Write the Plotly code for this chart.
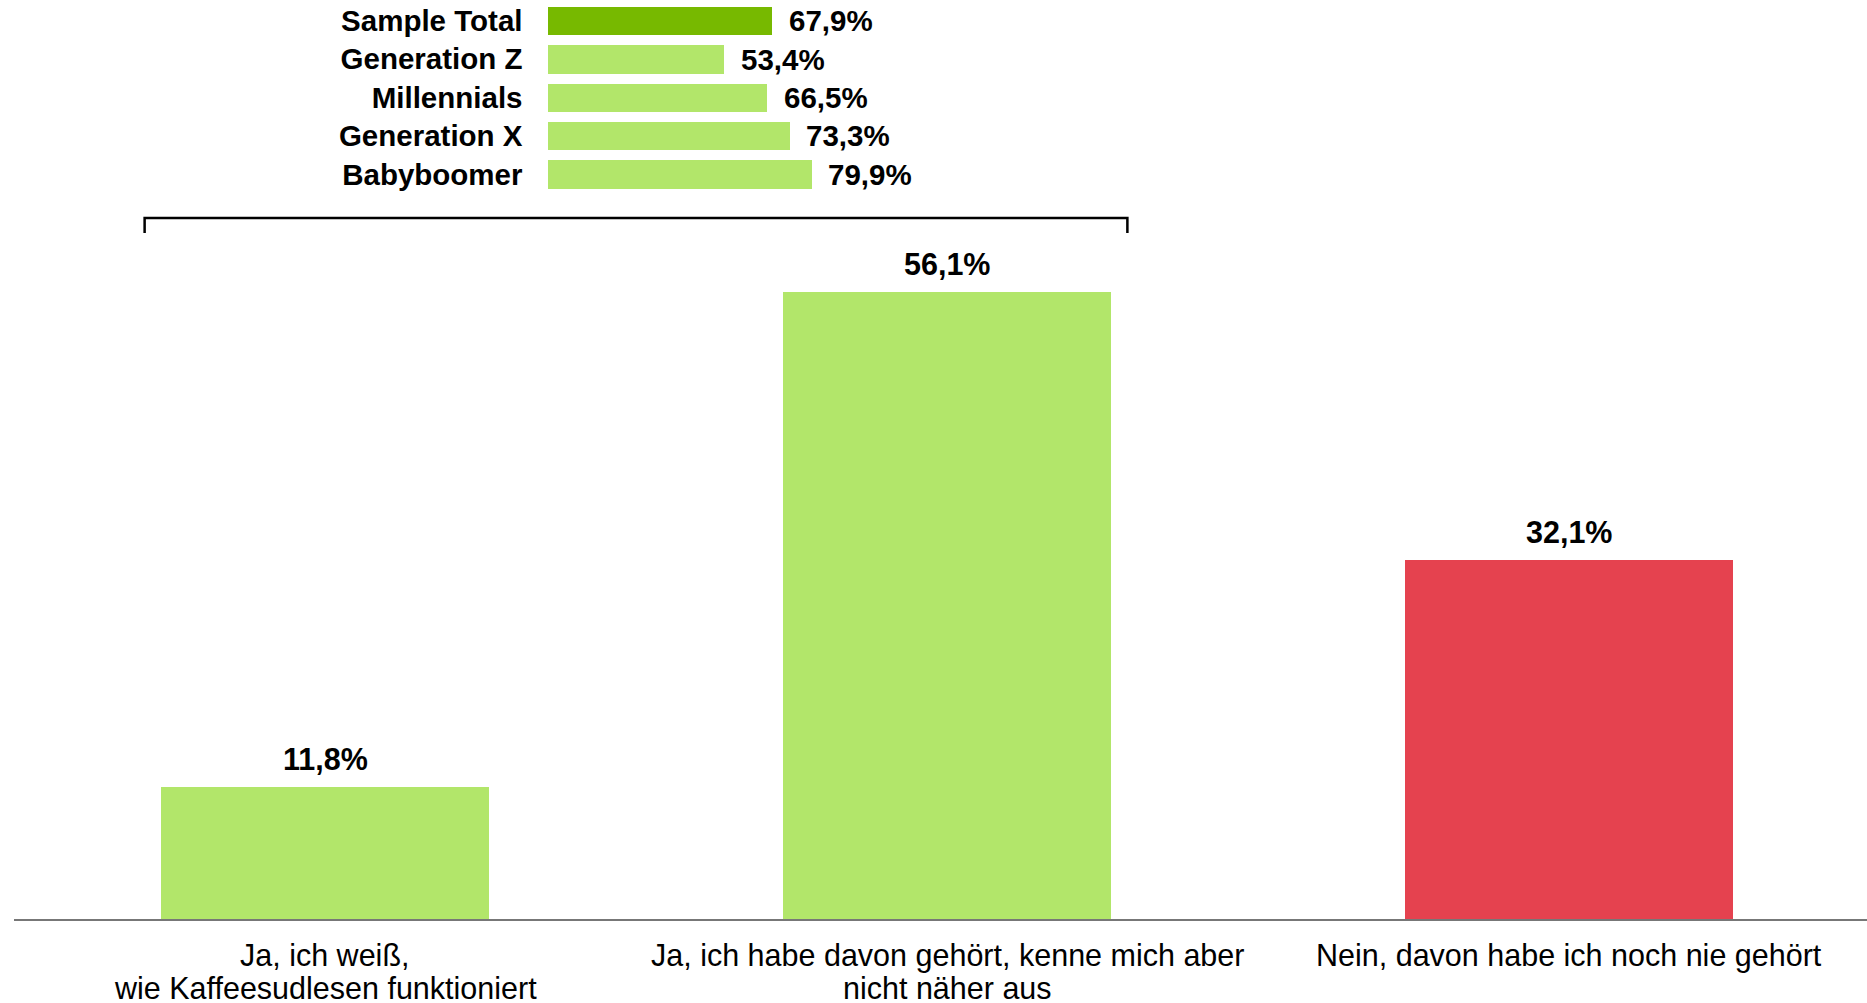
import plotly.graph_objects as go

# ---- data ----
categories = [
    ["Ja, ich weiß,", "wie Kaffeesudlesen funktioniert"],
    ["Ja, ich habe davon gehört, kenne mich aber", "nicht näher aus"],
    ["Nein, davon habe ich noch nie gehört"],
]
values = [11.8, 56.1, 32.1]
bar_colors = ["#b2e66a", "#b2e66a", "#e5424f"]

inset_groups = ["Sample Total", "Generation Z", "Millennials", "Generation X", "Babyboomer"]
inset_values = [67.9, 53.4, 66.5, 73.3, 79.9]
inset_colors = ["#77b900", "#b2e66a", "#b2e66a", "#b2e66a", "#b2e66a"]

FONT = "Liberation Sans, Arial, sans-serif"


def fmt(v):
    return f"{v:.1f}".replace(".", ",") + "%"


W, H = 1867, 1003
ML, MR, MT, MB = 14, 0, 0, 84
PW, PH = W - ML - MR, H - MT - MB

fig = go.Figure()

xs = list(range(len(values)))
fig.add_trace(go.Bar(
    x=xs, y=values, marker=dict(color=bar_colors, line=dict(width=0)),
    width=0.526, hoverinfo="skip", showlegend=False,
))

iy = list(range(len(inset_values)))
fig.add_trace(go.Bar(
    x=inset_values, y=iy, orientation="h", xaxis="x2", yaxis="y2",
    marker=dict(color=inset_colors, line=dict(width=0)),
    width=0.738, hoverinfo="skip", showlegend=False,
))

annotations = []
# main value labels
for x, v in zip(xs, values):
    annotations.append(dict(
        x=x, y=v, xref="x", yref="y", text=f"<b>{fmt(v)}</b>", showarrow=False,
        yanchor="middle", xanchor="center", yshift=28,
        font=dict(family=FONT, size=30.5, color="#000000"),
    ))
# category labels (one annotation per line)
for x, lines in zip(xs, categories):
    for i, line in enumerate(lines):
        annotations.append(dict(
            x=x, y=0, xref="x", yref="y", text=line, showarrow=False,
            yanchor="middle", xanchor="center", yshift=-36 - 33 * i,
            font=dict(family=FONT, size=30.5, color="#000000"),
        ))
# inset value labels
for y, v in zip(iy, inset_values):
    annotations.append(dict(
        x=v, y=y, xref="x2", yref="y2", text=f"<b>{fmt(v)}</b>", showarrow=False,
        yanchor="middle", xanchor="left", xshift=15,
        font=dict(family=FONT, size=29.5, color="#000000"),
    ))

# inset geometry (pixels -> paper)
px_per_pct = 3.30
inset_left = 547.5
x2_dom = [(inset_left - ML) / PW, (inset_left + px_per_pct * 100 - ML) / PW]
y2_dom = [(PH - 193.4) / PH, (PH - 1.6) / PH]

# bracket
br_top = (PH - 218) / PH
br_bot = (PH - 233) / PH
shapes = [dict(
    type="path", xref="x", yref="paper",
    path=f"M -0.29,{br_bot} L -0.29,{br_top} L 1.29,{br_top} L 1.29,{br_bot}",
    line=dict(color="#000000", width=2.5),
)]

px_per_unit = 11.17
fig.update_layout(
    width=W, height=H,
    margin=dict(l=ML, r=MR, t=MT, b=MB, pad=0),
    paper_bgcolor="white", plot_bgcolor="white",
    bargap=0,
    xaxis=dict(
        range=[-0.5, -0.5 + PW / 622.0], showgrid=False, zeroline=False,
        showticklabels=False, ticks="", showline=True, linecolor="#777777", linewidth=2,
        fixedrange=True,
    ),
    yaxis=dict(
        range=[0, PH / px_per_unit], showgrid=False, zeroline=False,
        showticklabels=False, ticks="", showline=False, fixedrange=True,
    ),
    xaxis2=dict(
        domain=x2_dom, anchor="y2", range=[0, 100], showgrid=False, zeroline=False,
        showticklabels=False, ticks="", showline=False, fixedrange=True,
    ),
    yaxis2=dict(
        domain=y2_dom, anchor="x2", range=[len(inset_values) - 0.5, -0.5],
        tickmode="array", tickvals=iy, ticktext=[f"<b>{g}</b>" for g in inset_groups],
        ticks="", showgrid=False, zeroline=False, showline=False,
        tickfont=dict(family=FONT, size=29.5, color="#000000"),
        ticklabelstandoff=24, fixedrange=True,
    ),
    annotations=annotations,
    shapes=shapes,
    font=dict(family=FONT),
)

fig.write_html(
    "out.html",
    config={"displayModeBar": False},
    post_script="document.body.style.margin='0';document.body.style.overflow='hidden';",
)
